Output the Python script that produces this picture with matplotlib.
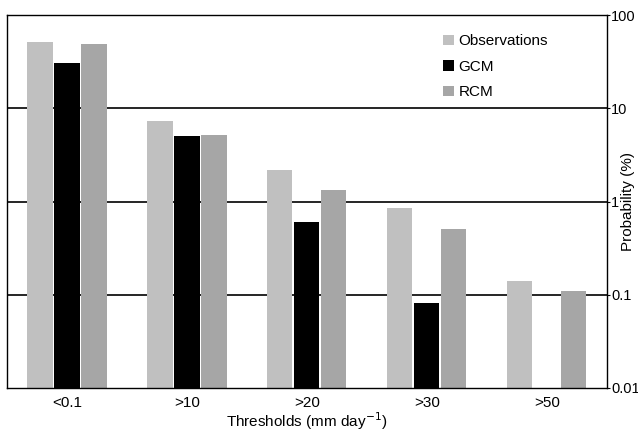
import matplotlib
matplotlib.use("Agg")
import matplotlib.pyplot as plt
import numpy as np

plt.rcParams['font.family'] = ['Liberation Sans', 'DejaVu Sans']

thresholds = ["<0.1", ">10", ">20", ">30", ">50"]
observations = [51, 7.3, 2.2, 0.85, 0.14]
gcm = [31, 5.0, 0.6, 0.082, 0]
rcm = [49, 5.2, 1.32, 0.51, 0.11]

x = np.arange(len(thresholds))
w = 0.21
off = 0.225

fig = plt.figure(figsize=(6.38, 4.33), dpi=100)
ax = fig.add_axes([0.011, 0.104, 0.94, 0.861])

ax.set_yscale("log")
ax.set_ylim(0.01, 100)
ax.set_xlim(-0.5, 4.5)

for yv in [0.1, 1, 10]:
    ax.axhline(yv, color="black", lw=1.2, zorder=0)

ax.bar(x - off, observations, w, color="#c0c0c0", label="Observations", zorder=2)
ax.bar(x, [v if v > 0 else np.nan for v in gcm], w, color="black", label="GCM", zorder=2)
ax.bar(x + off, rcm, w, color="#a6a6a6", label="RCM", zorder=2)

ax.yaxis.tick_right()
ax.yaxis.set_label_position("right")
ax.set_yticks([0.01, 0.1, 1, 10, 100])
ax.set_yticklabels(["0.01", "0.1", "1", "10", "100"])
ax.minorticks_off()
ax.tick_params(axis="y", length=2, labelsize=10.5, pad=1)
ax.tick_params(axis="x", length=0, labelsize=11, pad=6)
ax.set_xticks(x)
ax.set_xticklabels(thresholds)
ax.set_ylabel("Probability (%)", fontsize=11, va="center", ha="center")
ax.yaxis.set_label_coords(1.036, 0.5)
ax.set_xlabel("Thresholds (mm day$^{-1}$)", fontsize=11, labelpad=0)

for s in ax.spines.values():
    s.set_linewidth(1.0)

ax.legend(loc="upper right", bbox_to_anchor=(0.925, 0.985), frameon=False, fontsize=11,
          handlelength=0.7, handleheight=0.7, handletextpad=0.3, labelspacing=0.75)

fig.savefig("out.png", dpi=100)
